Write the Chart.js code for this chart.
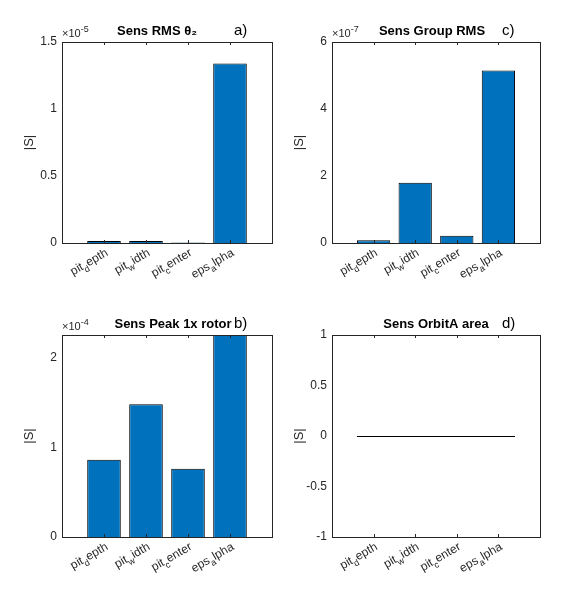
<!DOCTYPE html>
<html>
<head>
<meta charset="utf-8">
<script src="https://cdn.jsdelivr.net/npm/chart.js@4"></script>
<style>
  body { margin: 0; background: #fff; }
  .panel { position: absolute; width: 288px; height: 300px; }
</style>
</head>
<body>
<div class="panel" style="left:0;top:0"><canvas id="cA"></canvas></div>
<div class="panel" style="left:288px;top:0"><canvas id="cC"></canvas></div>
<div class="panel" style="left:0;top:300px"><canvas id="cB"></canvas></div>
<div class="panel" style="left:288px;top:300px"><canvas id="cD"></canvas></div>
<script>
// ===== Data =====
const categories = [
  [['pit'], ['d', 1], ['epth']],
  [['pit'], ['w', 1], ['idth']],
  [['pit'], ['c', 1], ['enter']],
  [['eps'], ['a', 1], ['lpha']]
];
const rmsTheta = [0.015, 0.015, 0.003, 1.34];      // x1e-5
const peakRotor = [0.86, 1.48, 0.76, 2.3];         // x1e-4
const groupRms = [0.08, 1.8, 0.22, 5.15];          // x1e-7
const orbitArea = [0, 0, 0, 0];
const ticksA = [0, 0.5, 1, 1.5];
const ticksB = [0, 1, 2];
const ticksC = [0, 2, 4, 6];
const ticksD = [-1, -0.5, 0, 0.5, 1];

const FONT = 'Arial, "Liberation Sans", sans-serif';
const TXT = '#262626';

// ===== Plugin: box, title, exponent, x labels =====
const matlabLook = {
  id: 'matlabLook',
  afterDraw(chart, args, o) {
    const { ctx, chartArea: a } = chart;
    const xs = chart.scales.x, ys = chart.scales.y;
    ctx.save();
    ctx.strokeStyle = TXT;
    ctx.lineWidth = 1;
    ctx.strokeRect(a.left + 0.5, a.top + 0.5, a.right - a.left, a.bottom - a.top);
    // zero-height bars show as a line
    if (o.zeroLine) {
      const py = Math.round(ys.getPixelForValue(0)) + 0.5;
      ctx.strokeStyle = '#000';
      ctx.beginPath();
      ctx.moveTo(xs.getPixelForValue(0.6), py);
      ctx.lineTo(xs.getPixelForValue(4.4), py);
      ctx.stroke();
      ctx.strokeStyle = TXT;
    }
    // x tick marks inward
    for (let i = 1; i <= 4; i++) {
      const px = Math.round(xs.getPixelForValue(i)) + 0.5;
      ctx.beginPath();
      ctx.moveTo(px, a.bottom); ctx.lineTo(px, a.bottom - 3);
      ctx.moveTo(px, a.top); ctx.lineTo(px, a.top + 3);
      ctx.stroke();
    }
    // title
    ctx.fillStyle = '#000';
    ctx.font = 'bold 13px ' + FONT;
    ctx.textAlign = 'center';
    ctx.textBaseline = 'bottom';
    ctx.fillText(o.title, (a.left + a.right) / 2 + (o.titleDx || 0), a.top - 4);
    ctx.font = '15px ' + FONT;
    ctx.textAlign = 'left';
    ctx.fillText(o.letter, a.right - 38, a.top - 4);
    // exponent
    if (o.exp) {
      ctx.fillStyle = TXT;
      ctx.font = '11px ' + FONT;
      ctx.textAlign = 'left';
      ctx.fillText('\u00d710', a.left, a.top - 3);
      const w = ctx.measureText('\u00d710').width;
      ctx.font = '9px ' + FONT;
      ctx.fillText(o.exp, a.left + w, a.top - 8);
    }
    // rotated x labels
    ctx.fillStyle = TXT;
    categories.forEach((segs, i) => {
      const px = xs.getPixelForValue(i + 1);
      ctx.save();
      ctx.translate(px + 3, a.bottom + 9);
      ctx.rotate(-30 * Math.PI / 180);
      let total = 0;
      segs.forEach(s => { ctx.font = (s[1] ? '9px ' : '12px ') + FONT; total += ctx.measureText(s[0]).width; });
      let x = -total;
      ctx.textAlign = 'left';
      ctx.textBaseline = 'middle';
      segs.forEach(s => {
        ctx.font = (s[1] ? '9px ' : '12px ') + FONT;
        ctx.fillText(s[0], x, s[1] ? 5 : 0);
        x += ctx.measureText(s[0]).width;
      });
      ctx.restore();
    });
    ctx.restore();
  }
};

function makeChart(id, values, yTicks, yMin, yMax, pad, opts) {
  new Chart(document.getElementById(id), {
    type: 'bar',
    data: {
      datasets: [{
        data: values.map((v, i) => ({ x: i + 1, y: v })),
        backgroundColor: '#0072BD',
        borderColor: '#000',
        borderWidth: 1,
        barPercentage: 0.8,
        categoryPercentage: 1
      }]
    },
    options: {
      responsive: true,
      maintainAspectRatio: false,
      animation: false,
      layout: { padding: pad },
      plugins: { legend: { display: false }, tooltip: { enabled: false }, matlabLook: opts },
      scales: {
        x: {
          type: 'linear', min: 0, max: 5, offset: false,
          grid: { display: false }, border: { display: false },
          ticks: { display: false },
          afterFit: s => { s.height = 0; }
        },
        y: {
          min: yMin, max: yMax,
          grid: { display: false, drawTicks: false }, border: { display: false },
          afterBuildTicks: s => { s.ticks = yTicks.map(v => ({ value: v })); },
          afterFit: s => { s.width = 40; },
          ticks: { color: TXT, font: { size: 12, family: FONT }, padding: 5,
                   callback: v => String(v) },
          title: { display: true, text: '|S|', color: TXT, font: { size: 13, family: FONT }, padding: 0 }
        }
      }
    },
    plugins: [matlabLook]
  });
}

makeChart('cA', rmsTheta, ticksA, 0, 1.5, { left: 22, top: 42, right: 16, bottom: 57 },
  { title: 'Sens RMS \u03b8\u2082', letter: 'a)', exp: '-5', titleDx: -10 });
makeChart('cC', groupRms, ticksC, 0, 6, { left: 4, top: 42, right: 36, bottom: 57 },
  { title: 'Sens Group RMS', letter: 'c)', exp: '-7', titleDx: -4 });
makeChart('cB', peakRotor, ticksB, 0, 2.25, { left: 22, top: 35, right: 16, bottom: 63 },
  { title: 'Sens Peak 1x rotor', letter: 'b)', exp: '-4', titleDx: 6 });
makeChart('cD', orbitArea, ticksD, -1, 1, { left: 4, top: 35, right: 36, bottom: 63 },
  { title: 'Sens OrbitA area', letter: 'd)', zeroLine: true });
</script>
</body>
</html>
